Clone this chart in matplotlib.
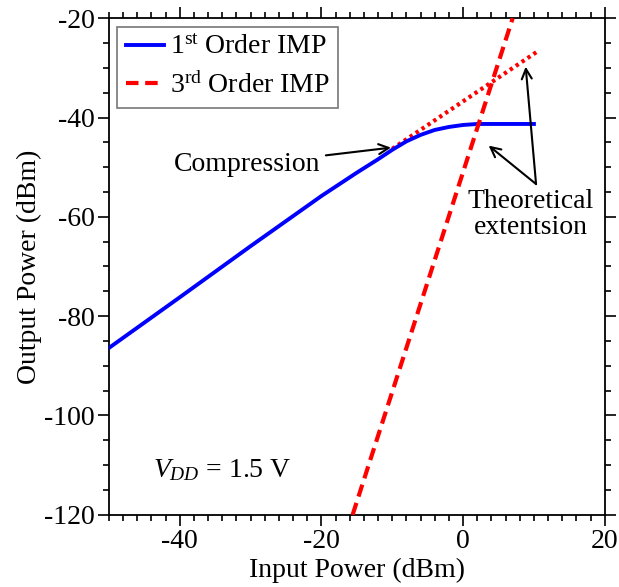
import matplotlib
matplotlib.use('Agg')
import matplotlib.pyplot as plt
from matplotlib.ticker import MultipleLocator

plt.rcParams['font.family'] = ['Liberation Serif', 'DejaVu Serif']
plt.rcParams['mathtext.fontset'] = 'custom'
plt.rcParams['mathtext.rm'] = 'Liberation Serif'
plt.rcParams['mathtext.it'] = 'Liberation Serif:italic'
plt.rcParams['axes.unicode_minus'] = False

# 1st order output (fundamental)
pin_1st = [-50, -40, -30, -20, -15, -12, -10, -8, -6, -4, -2, 0, 2, 4, 6, 8, 10]
pout_1st = [-86.4, -76.2, -65.9, -55.8, -51.1, -48.4, -46.5, -44.8, -43.5, -42.5, -41.9, -41.5, -41.3, -41.3, -41.3, -41.3, -41.3]

# 3rd order IMP (straight line)
pin_3rd = [-15.6, 7.0]
pout_3rd = [-120, -20]

# theoretical extension of the 1st order line
pin_ext = [-10, 10.7]
pout_ext = [-46.3, -26.5]

fig = plt.figure(figsize=(6.19, 5.87), dpi=100)
ax = fig.add_axes([0.176, 0.123, 0.801, 0.846])

ax.plot(pin_1st, pout_1st, color='#0000ff', lw=2.8, label='1$^{\\rm st}$ Order IMP', zorder=3)
ax.plot(pin_3rd, pout_3rd, color='#ff0000', lw=3, ls=(0, (3, 1.6)), label='3$^{\\rm rd}$ Order IMP', zorder=4)
ax.plot(pin_ext, pout_ext, color='#ff0000', lw=3, ls=(0, (0.8, 0.9)), zorder=2)

ax.set_xlim(-50, 20)
ax.set_ylim(-120, -20)
ax.xaxis.set_major_locator(MultipleLocator(20))
ax.xaxis.set_minor_locator(MultipleLocator(2))
ax.yaxis.set_major_locator(MultipleLocator(20))
ax.yaxis.set_minor_locator(MultipleLocator(5))
ax.tick_params(which='both', direction='out', top=True, right=True, width=1.2, labelsize=20)
ax.tick_params(which='major', length=8, pad=2)
ax.tick_params(which='minor', length=4)
for s in ax.spines.values():
    s.set_linewidth(1.3)

ax.set_xlabel('Input Power (dBm)', fontsize=20, labelpad=3)
ax.set_ylabel('Output Power (dBm)', fontsize=20, labelpad=2)

leg = ax.legend(loc='upper left', fontsize=20, frameon=True, fancybox=False,
                handlelength=1.4, handletextpad=0.2, borderpad=0.3,
                labelspacing=0.45, borderaxespad=0.3)
leg.get_frame().set_edgecolor('#555555')
leg.get_frame().set_linewidth(1.2)

arrow = dict(arrowstyle='->', color='black', lw=1.5, mutation_scale=18)
ax.annotate('Compression', xy=(-9.8, -46.0), xytext=(-30.5, -49.5), fontsize=20,
            ha='center', va='center', arrowprops=arrow)
ax.annotate('Theoretical\nextentsion', xy=(8.8, -29.0), xytext=(9.6, -59.6), fontsize=20,
            ha='center', va='center', linespacing=1.05)
ax.annotate('', xy=(8.8, -29.2), xytext=(10.3, -53.4),
            arrowprops=dict(arrow, shrinkA=0))
ax.annotate('', xy=(3.3, -45.3), xytext=(10.3, -53.4),
            arrowprops=dict(arrow, shrinkA=0))

ax.text(-43.8, -111, '$\\mathit{V}_{\\mathit{DD}}$ = 1.5 V', fontsize=20, ha='left', va='center')

fig.savefig('out.png', dpi=100)
